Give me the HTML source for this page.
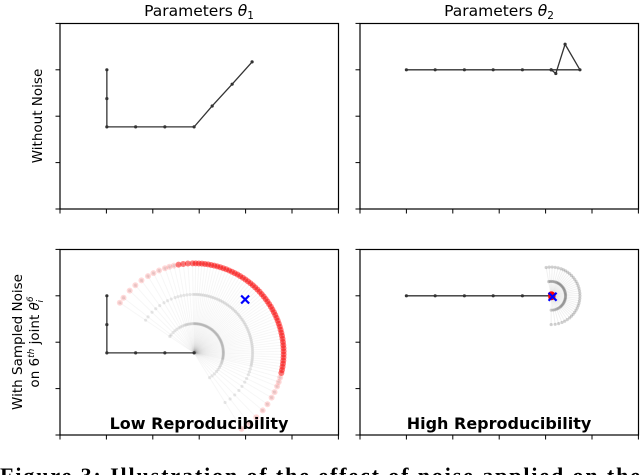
<!DOCTYPE html>
<html><head><meta charset="utf-8"><style>
body{margin:0;background:#fff;width:640px;height:475px;overflow:hidden}
svg{display:block}
.s{font-family:"DejaVu Sans","Liberation Sans",sans-serif}
.r{font-family:"Liberation Serif","DejaVu Serif",serif}
</style></head><body>
<svg id="fig" width="640" height="475" viewBox="0 0 640 475" xmlns="http://www.w3.org/2000/svg">
<text class="s" x="199" y="16" font-size="15.5" text-anchor="middle">Parameters <tspan font-style="italic">θ</tspan><tspan font-size="10.5" dy="3">1</tspan></text>
<text class="s" x="499" y="16" font-size="15.5" text-anchor="middle">Parameters <tspan font-style="italic">θ</tspan><tspan font-size="10.5" dy="3">2</tspan></text>
<text class="s" transform="translate(42,116) rotate(-90)" font-size="13.5" text-anchor="middle">Without Noise</text>
<g class="s" transform="translate(0,342) rotate(-90)" font-size="13.5" text-anchor="middle">
<text x="0" y="22">With Sampled Noise</text>
<text x="0" y="39">on 6<tspan font-size="9" dy="-5" font-style="italic">th</tspan><tspan dy="5"> joint </tspan><tspan font-style="italic">θ</tspan><tspan font-size="9" dy="-6" font-style="italic">6</tspan><tspan font-size="9" dx="-6" dy="10" font-style="italic">i</tspan></text>
</g>
<g id="panels"></g>
<text class="s" x="199" y="429" font-size="16" font-weight="bold" text-anchor="middle">Low Reproducibility</text>
<text class="s" x="499" y="429" font-size="16" font-weight="bold" text-anchor="middle">High Reproducibility</text>
<text class="r" x="0" y="483" font-size="22" font-weight="bold" textLength="640" lengthAdjust="spacing">Figure 3: Illustration of the effect of noise applied on the</text>
</svg>
<script>
const arm1X=[1.01,1.01,1.01,1.63,2.26,2.89,3.28,3.71,4.14];
const arm1Y=[3.0,2.38,1.77,1.77,1.77,1.77,2.22,2.69,3.17];
const arm2X=[1.0,1.62,2.25,2.87,3.5,4.12,4.22,4.42,4.74,4.12];
const arm2Y=[3.0,3.0,3.0,3.0,3.0,3.0,2.92,3.55,3.0,3.0];
const noisyBase1X=[1.01,1.01,1.01,1.63,2.26,2.89];
const noisyBase1Y=[3.0,2.38,1.77,1.77,1.77,1.77];
const noisyBase2X=[1.0,1.62,2.25,2.87,3.5,4.12];
const noisyBase2Y=[3.0,3.0,3.0,3.0,3.0,3.0];
const fan1Angles=[146,142,136,131,126,121,117,113,109,106,103,100,97,94,91,89,87,85,83,81,79,77,75,73,71,69,67,65,63,61,59,57,55,53,51,49,47,45,43,41,39,37,35,33,31,29,27,25,23,21,19,17,15,13,11,9,7,5,3,1,-1,-3,-5,-7,-9,-11,-13,-16,-19,-22,-26,-30,-35,-40,-46,-52,-58];
const fan1Radii=[0.63,1.26,1.93];
const fan2Angles=[100,94,88,82,76,70,65,60,55,50,45,40,35,30,25,20,15,10,5,0,-5,-10,-15,-20,-25,-30,-35,-40,-45,-50,-56,-62,-68,-75,-82,-90];
const fan2Radii=[0.31,0.62];
const target1=[3.99,2.92];
const target2=[4.15,2.98];
const xTicks=[0,1,2,3,4,5,6];
const yTicks=[0,1,2,3,4];

const NS="http://www.w3.org/2000/svg";
const S=46.4;
const panels=[{x:60,y:23.5,n:'top-left'},{x:360,y:23.5,n:'top-right'},{x:60,y:249.5,n:'bottom-left'},{x:360,y:249.5,n:'bottom-right'}];
const root=document.getElementById('panels');
function mk(t,a,p){const e=document.createElementNS(NS,t);for(const k in a)e.setAttribute(k,a[k]);(p||root).appendChild(e);return e;}
function sx(P,v){return P.x+v*S;}
function sy(P,v){return P.y+185.5-v*S;}
function poly(P,xs,ys,g){let d='';xs.forEach((x,i)=>{d+=(i?'L':'M')+sx(P,x)+' '+sy(P,ys[i]);});
 const l=mk('path',{d:d,fill:'none',stroke:'#333','stroke-width':1.3},g);
 
 
 xs.forEach((x,i)=>{const c=mk('circle',{cx:sx(P,x),cy:sy(P,ys[i]),r:1.6,fill:'#333'},g);
 
 });}
function fan(P,bx,by,angles,radii,rRed,g,dark){
 const cx=bx[bx.length-1],cy=by[by.length-1];
 const rmax=radii[radii.length-1];
 angles.forEach(a=>{const t=a*Math.PI/180;
  const l=mk('line',{x1:sx(P,cx),y1:sy(P,cy),x2:sx(P,cx+rmax*Math.cos(t)),y2:sy(P,cy+rmax*Math.sin(t)),stroke:'#000','stroke-opacity':dark?0.06:0.035,'stroke-width':1},g);
  
  
  radii.forEach(r=>{const c=mk('circle',{cx:sx(P,cx+r*Math.cos(t)),cy:sy(P,cy+r*Math.sin(t)),r:1.6,fill:'#000','fill-opacity':dark?0.18:0.09},g);
   
   });
  const rr=rRed===null?0.03:rRed;
  const op=rRed===null?0.6:((a>100||a<-15)?0.15:0.5);
  const c=mk('circle',{cx:sx(P,cx+rr*Math.cos(t)),cy:sy(P,cy+rr*Math.sin(t)),r:3,fill:'#f00','fill-opacity':op},g);
  
  });
}
function cross(P,pt,g){const x=sx(P,pt[0]),y=sy(P,pt[1]);
 const c=mk('path',{d:`M${x-4} ${y-4}L${x+4} ${y+4}M${x-4} ${y+4}L${x+4} ${y-4}`,stroke:'#00f','stroke-width':2.2},g);
 
 }
panels.forEach((P,i)=>{
 const g=mk('g',{});
 
 
 const r=mk('rect',{x:P.x,y:P.y,width:278.5,height:185.5,fill:'none',stroke:'#000','stroke-width':1.2},g);
 
 
 xTicks.forEach(t=>{const l=mk('line',{x1:sx(P,t),x2:sx(P,t),y1:P.y+185.5,y2:P.y+190,stroke:'#000','stroke-width':1},g);
  
  });
 yTicks.forEach(t=>{const l=mk('line',{x1:P.x-4.5,x2:P.x,y1:sy(P,t),y2:sy(P,t),stroke:'#000','stroke-width':1},g);
  
  });
 if(i===0)poly(P,arm1X,arm1Y,g);
 if(i===1)poly(P,arm2X,arm2Y,g);
 if(i===2){fan(P,noisyBase1X,noisyBase1Y,fan1Angles,fan1Radii,1.93,g,false);poly(P,noisyBase1X,noisyBase1Y,g);cross(P,target1,g);}
 if(i===3){poly(P,noisyBase2X,noisyBase2Y,g);fan(P,noisyBase2X,noisyBase2Y,fan2Angles,fan2Radii,null,g,true);cross(P,target2,g);}
});
</script>
</body></html>
